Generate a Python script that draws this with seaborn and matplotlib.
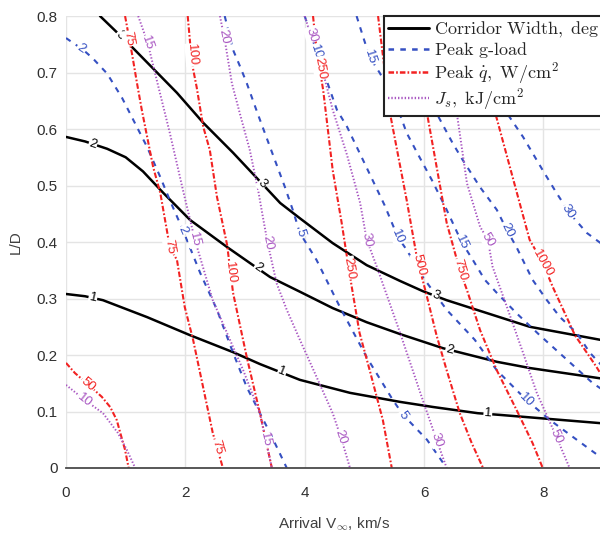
import numpy as np
import pandas as pd
import matplotlib
matplotlib.use("Agg")
import matplotlib.pyplot as plt
from matplotlib.lines import Line2D
import seaborn as sns

# ---------------------------------------------------------------
# Contour traces in (arrival V_inf [km/s], L/D) coordinates
# ---------------------------------------------------------------

# Corridor width, deg
cw_levels = [1, 2, 3]
cw_1 = [(0.00, 0.308), (0.32, 0.304), (0.62, 0.297), (1.36, 0.267), (2.08, 0.235),
        (2.80, 0.205), (3.25, 0.184), (3.92, 0.156), (4.76, 0.133), (5.60, 0.117),
        (6.15, 0.108), (6.90, 0.097), (7.27, 0.094), (9.00, 0.079)]
cw_2 = [(0.00, 0.586), (0.32, 0.578), (0.69, 0.565), (1.00, 0.550), (1.29, 0.525),
        (1.63, 0.487), (2.08, 0.439), (2.70, 0.391), (3.08, 0.363), (3.42, 0.338),
        (3.92, 0.312), (4.47, 0.283), (5.04, 0.258), (5.60, 0.237), (6.32, 0.212),
        (7.22, 0.188), (7.77, 0.177), (9.00, 0.158)]
cw_3 = [(0.57, 0.800), (1.07, 0.749), (1.86, 0.664), (2.30, 0.611), (2.80, 0.558),
        (3.20, 0.513), (3.59, 0.469), (3.92, 0.442), (4.47, 0.398), (5.04, 0.359),
        (5.60, 0.331), (5.98, 0.313), (6.38, 0.297), (7.77, 0.250), (9.00, 0.226)]

# Peak g-load
g_levels = [2, 5, 10, 15, 20, 30]
g_2 = [(0.00, 0.761), (0.29, 0.740), (0.45, 0.725), (0.69, 0.698), (0.94, 0.655),
       (1.36, 0.568), (1.58, 0.515), (1.74, 0.474), (1.96, 0.421), (2.25, 0.345),
       (2.53, 0.280), (2.80, 0.204), (3.03, 0.143), (3.25, 0.097), (3.42, 0.062),
       (3.70, 0.000)]
g_5 = [(2.66, 0.800), (2.80, 0.740), (2.92, 0.710), (3.03, 0.681), (3.22, 0.625),
       (3.42, 0.568), (3.67, 0.497), (3.80, 0.457), (3.92, 0.416), (4.20, 0.368),
       (4.59, 0.285), (5.04, 0.196), (5.48, 0.120), (5.65, 0.094), (6.05, 0.050),
       (6.38, 0.000)]
g_10 = [(4.00, 0.800), (4.22, 0.731), (4.54, 0.634), (4.71, 0.604), (4.96, 0.549),
        (5.34, 0.465), (5.56, 0.409), (5.71, 0.386), (5.98, 0.338), (6.38, 0.280),
        (6.85, 0.227), (7.22, 0.173), (7.55, 0.138), (7.72, 0.120), (8.11, 0.085),
        (8.56, 0.050), (9.00, 0.016)]
g_15 = [(4.87, 0.800), (4.98, 0.763), (5.09, 0.727), (5.26, 0.699), (5.51, 0.651),
        (5.71, 0.593), (5.88, 0.559), (6.13, 0.510), (6.38, 0.457), (6.63, 0.400),
        (6.82, 0.368), (7.02, 0.333), (7.22, 0.310), (7.55, 0.274), (7.94, 0.235),
        (8.36, 0.195), (8.83, 0.150), (9.00, 0.138)]
g_20 = [(5.68, 0.800), (6.21, 0.628), (6.48, 0.575), (6.65, 0.545), (6.94, 0.497),
        (7.22, 0.457), (7.39, 0.421), (7.55, 0.391), (7.82, 0.333), (8.06, 0.297),
        (8.28, 0.267), (8.56, 0.239), (8.78, 0.204), (9.00, 0.179)]
g_30 = [(6.77, 0.800), (7.39, 0.628), (7.66, 0.586), (7.99, 0.527), (8.22, 0.487),
        (8.44, 0.451), (8.73, 0.416), (9.00, 0.395)]

# Peak heat rate, W/cm^2
q_levels = [50, 75, 100, 250, 500, 750, 1000]
q_50 = [(0.00, 0.186), (0.15, 0.168), (0.37, 0.148), (0.60, 0.126), (0.74, 0.108),
        (0.85, 0.085), (0.91, 0.062), (0.99, 0.032), (1.05, 0.000)]
q_75 = [(0.99, 0.800), (1.11, 0.731), (1.19, 0.681), (1.27, 0.634), (1.46, 0.533),
        (1.58, 0.487), (1.74, 0.391), (1.86, 0.368), (1.99, 0.285), (2.13, 0.227),
        (2.46, 0.062), (2.63, 0.000)]
q_100 = [(2.04, 0.800), (2.11, 0.717), (2.19, 0.674), (2.30, 0.604), (2.41, 0.563),
         (2.53, 0.480), (2.70, 0.395), (2.80, 0.310), (3.03, 0.196), (3.25, 0.097),
         (3.45, 0.000)]
q_250 = [(4.14, 0.800), (4.20, 0.740), (4.31, 0.669), (4.39, 0.598), (4.47, 0.527),
         (4.62, 0.434), (4.71, 0.373), (4.79, 0.320), (4.92, 0.239), (5.09, 0.173),
         (5.21, 0.125), (5.31, 0.085), (5.46, 0.000)]
q_500 = [(5.23, 0.800), (5.43, 0.628), (5.71, 0.474), (5.88, 0.373), (6.05, 0.303),
         (6.21, 0.235), (6.38, 0.173), (6.60, 0.097), (6.80, 0.044), (6.99, 0.000)]
q_750 = [(5.80, 0.800), (6.05, 0.628), (6.38, 0.434), (6.60, 0.350), (6.72, 0.315),
         (6.94, 0.244), (7.22, 0.173), (7.55, 0.103), (7.82, 0.044), (7.99, 0.000)]
q_1000 = [(6.77, 0.800), (7.19, 0.630), (7.77, 0.404), (7.99, 0.363), (8.16, 0.320),
          (8.53, 0.235), (8.89, 0.179), (9.00, 0.160)]

# Heat load J_s, kJ/cm^2
j_levels = [10, 15, 20, 30, 50]
j_10 = [(0.00, 0.147), (0.32, 0.120), (0.62, 0.097), (0.87, 0.062), (1.02, 0.032),
        (1.16, 0.000)]
j_15 = [(1.21, 0.800), (1.37, 0.752), (1.52, 0.687), (1.74, 0.593), (1.96, 0.492),
        (2.16, 0.404), (2.46, 0.297), (2.97, 0.173), (3.25, 0.097), (3.45, 0.000)]
j_20 = [(2.58, 0.800), (2.66, 0.758), (2.78, 0.681), (2.92, 0.625), (3.08, 0.563),
        (3.22, 0.492), (3.30, 0.444), (3.38, 0.398), (3.53, 0.327), (3.70, 0.280),
        (3.92, 0.227), (4.20, 0.161), (4.47, 0.097), (4.62, 0.050), (4.76, 0.000)]
j_30 = [(4.00, 0.800), (4.34, 0.687), (4.47, 0.634), (4.71, 0.554), (4.93, 0.469),
        (5.04, 0.404), (5.21, 0.356), (5.60, 0.239), (5.98, 0.120), (6.21, 0.050),
        (6.38, 0.000)]
j_50 = [(6.27, 0.800), (6.55, 0.628), (6.72, 0.504), (6.94, 0.427), (7.07, 0.404),
        (7.15, 0.356), (7.39, 0.285), (7.66, 0.204), (7.89, 0.133), (8.22, 0.055),
        (8.44, 0.000)]

# Inline contour label anchors: (V_inf, L/D, level)
cw_label_at = [(0.45, 0.301, 1), (3.62, 0.170, 1), (7.07, 0.096, 1),
               (0.45, 0.573, 2), (3.22, 0.354, 2), (6.43, 0.209, 2),
               (0.91, 0.766, 3), (3.29, 0.503, 3), (6.20, 0.305, 3)]
g_label_at = [(0.25, 0.743, 2), (1.96, 0.421, 2),
              (3.92, 0.416, 5), (5.65, 0.094, 5),
              (4.20, 0.737, 10), (5.56, 0.409, 10), (7.72, 0.120, 10),
              (5.09, 0.727, 15), (6.63, 0.400, 15),
              (7.39, 0.421, 20), (8.42, 0.453, 30)]
q_label_at = [(0.37, 0.148, 50),
              (1.05, 0.760, 75), (1.74, 0.391, 75), (2.53, 0.037, 75),
              (2.11, 0.731, 100), (2.75, 0.345, 100),
              (4.25, 0.708, 250), (4.74, 0.354, 250),
              (5.91, 0.359, 500), (6.60, 0.350, 750), (7.99, 0.363, 1000)]
j_label_at = [(0.32, 0.120, 10),
              (1.37, 0.752, 15), (2.16, 0.404, 15), (3.35, 0.050, 15),
              (2.65, 0.763, 20), (3.38, 0.398, 20), (4.60, 0.055, 20),
              (4.11, 0.767, 30), (5.04, 0.404, 30), (6.21, 0.050, 30),
              (7.07, 0.404, 50), (8.22, 0.055, 50)]

x_ticks = [0, 2, 4, 6, 8]
y_ticks = [0, 0.1, 0.2, 0.3, 0.4, 0.5, 0.6, 0.7, 0.8]
y_tick_labels = ["0", "0.1", "0.2", "0.3", "0.4", "0.5", "0.6", "0.7", "0.8"]

# Legend entries typeset with TeX-style math (Computer Modern)
legend_labels = [r"$\mathrm{Corridor\ Width,\ deg}$",
                 r"$\mathrm{Peak\ g\text{-}load}$",
                 r"$\mathrm{Peak}\ \dot{q},\ \mathrm{W/cm^2}$",
                 r"$J_s,\ \mathrm{kJ/cm^2}$"]

# ---------------------------------------------------------------
# Styling
# ---------------------------------------------------------------
sns.set_theme(style="white")
plt.rcParams.update({
    "font.family": ["Liberation Sans", "DejaVu Sans"],
    "mathtext.fontset": "cm",
    "lines.scale_dashes": False,
    "axes.unicode_minus": False,
})

C_BLACK = "#000000"
C_BLUE = "#3550c2"
C_RED = "#f22222"
C_PURPLE = "#a957c2"

families = [
    dict(lines=[cw_1, cw_2, cw_3], levels=cw_levels, labels=cw_label_at,
         color=C_BLACK, lw=1.8, ls="-"),
    dict(lines=[g_2, g_5, g_10, g_15, g_20, g_30], levels=g_levels, labels=g_label_at,
         color=C_BLUE, lw=1.5, ls=(0, (4.0, 4.5))),
    dict(lines=[q_50, q_75, q_100, q_250, q_500, q_750, q_1000], levels=q_levels,
         labels=q_label_at, color=C_RED, lw=1.5, ls=(0, (4.0, 1.5, 1.2, 1.5))),
    dict(lines=[j_10, j_15, j_20, j_30, j_50], levels=j_levels, labels=j_label_at,
         color=C_PURPLE, lw=1.4, ls=(0, (1.0, 1.4))),
]


def to_frame(lines, levels):
    rows = []
    for lev, pts in zip(levels, lines):
        for k, (vx, ld) in enumerate(pts):
            rows.append({"level": lev, "k": k, "v": vx, "ld": ld})
    return pd.DataFrame(rows)


def label_angle(ax, pts, x, y):
    """Angle (deg, screen space) of the polyline segment closest to (x, y)."""
    disp = ax.transData.transform(np.asarray(pts, dtype=float))
    p = ax.transData.transform((x, y))
    best, ang = np.inf, 0.0
    for a, b in zip(disp[:-1], disp[1:]):
        d = b - a
        t = np.clip(np.dot(p - a, d) / max(np.dot(d, d), 1e-9), 0, 1)
        dist = np.hypot(*(a + t * d - p))
        if dist < best:
            best = dist
            ang = np.degrees(np.arctan2(d[1], d[0]))
    if ang > 90:
        ang -= 180
    if ang < -90:
        ang += 180
    return ang


fig = plt.figure(figsize=(6.0, 5.34), dpi=100)
ax = fig.add_axes([0.110, 0.1236, 0.895, 0.8464])
ax.set_xlim(0, 9)
ax.set_ylim(0, 0.8)

ax.set_xticks(x_ticks)
ax.set_yticks(y_ticks)
ax.set_yticklabels(y_tick_labels)
ax.grid(True, color="#e4e4e4", lw=1.0)
ax.set_axisbelow(True)

for fam in families:
    df = to_frame(fam["lines"], fam["levels"])
    sns.lineplot(data=df, x="v", y="ld", units="level", estimator=None, sort=False,
                 color=fam["color"], lw=fam["lw"], linestyle=fam["ls"],
                 legend=False, ax=ax)

for fam in families:
    by_level = dict(zip(fam["levels"], fam["lines"]))
    for (x, y, lev) in fam["labels"]:
        ang = label_angle(ax, by_level[lev], x, y)
        ax.text(x, y, f"{lev}", color=fam["color"], fontsize=9.5,
                rotation=ang, rotation_mode="anchor", ha="center", va="center",
                zorder=5,
                bbox=dict(boxstyle="square,pad=0.05", fc="white", ec="none"))

for side in ["top", "right", "left"]:
    ax.spines[side].set_visible(False)
ax.spines["bottom"].set_color("#4a4a4a")
ax.spines["bottom"].set_linewidth(1.3)
ax.tick_params(axis="both", direction="in", length=4, width=1.0, color="#4a4a4a",
               labelsize=11, labelcolor="#303030")
ax.tick_params(axis="x", pad=13)
ax.tick_params(axis="y", pad=6)

ax.set_xlabel(r"Arrival V$_{\infty}$, km/s", fontsize=11, color="#404040", labelpad=11)
ax.set_ylabel("L/D", fontsize=11, color="#404040", labelpad=10)

handles = [Line2D([], [], color=f["color"], lw=f["lw"] + 0.3, linestyle=f["ls"])
           for f in families]
leg = ax.legend(handles, legend_labels, loc="upper right", bbox_to_anchor=(1.0, 1.0),
                borderaxespad=0.0, frameon=True, fancybox=False, framealpha=1.0,
                edgecolor="#222222", handlelength=2.3, handletextpad=0.25,
                labelspacing=0.02, borderpad=0.2, fontsize=13)
leg.get_frame().set_linewidth(1.5)
leg.set_zorder(10)

fig.savefig("out.png", dpi=100)
